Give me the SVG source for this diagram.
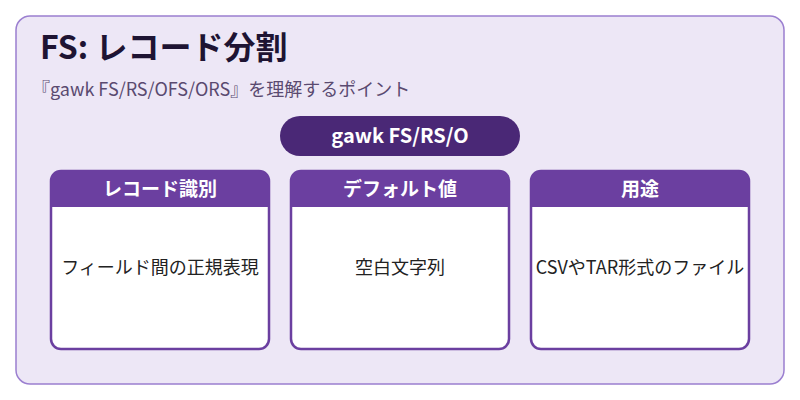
<svg xmlns="http://www.w3.org/2000/svg" width="800" height="400" viewBox="0 0 800 400">
<style>
text{font-family:"Noto Sans CJK JP",sans-serif}
.card{fill:#fff;stroke:#6b3fa0;stroke-width:2.5}
.hd{fill:#6b3fa0}
.ht{fill:#fff;font-size:19px;font-weight:bold;text-anchor:middle}
.bt{fill:#222;font-size:18px;text-anchor:middle}
</style>
<rect x="16" y="16" width="768" height="368" rx="14" fill="#ede7f6" stroke="#9b7fd0" stroke-width="1.5"/>
<text x="40" y="59" font-size="32" font-weight="bold" fill="#1e1433">FS: レコード分割</text>
<text x="32" y="96" font-size="18" fill="#5a4a70">『gawk FS/RS/OFS/ORS』を理解するポイント</text>
<g id="pill"><rect x="280" y="116" width="240" height="40" rx="20" fill="#4a2876"/>
<text x="400" y="143" font-size="20" font-weight="bold" fill="#fff" text-anchor="middle">gawk FS/RS/O</text></g>
<g id="card1"><rect class="card" x="51" y="171" width="218" height="178" rx="10"/>
<path class="hd" d="M51 181a10 10 0 0 1 10-10h198a10 10 0 0 1 10 10v26h-218z"/>
<text class="ht" x="160" y="196">レコード識別</text>
<text class="bt" x="160" y="274">フィールド間の正規表現</text></g>
<g id="card2"><rect class="card" x="291" y="171" width="218" height="178" rx="10"/>
<path class="hd" d="M291 181a10 10 0 0 1 10-10h198a10 10 0 0 1 10 10v26h-218z"/>
<text class="ht" x="400" y="196">デフォルト値</text>
<text class="bt" x="400" y="274">空白文字列</text></g>
<g id="card3"><rect class="card" x="531" y="171" width="218" height="178" rx="10"/>
<path class="hd" d="M531 181a10 10 0 0 1 10-10h198a10 10 0 0 1 10 10v26h-218z"/>
<text class="ht" x="640" y="196">用途</text>
<text class="bt" x="640" y="274">CSVやTAR形式のファイル</text></g>
<g id="connectors"/>
</svg>
